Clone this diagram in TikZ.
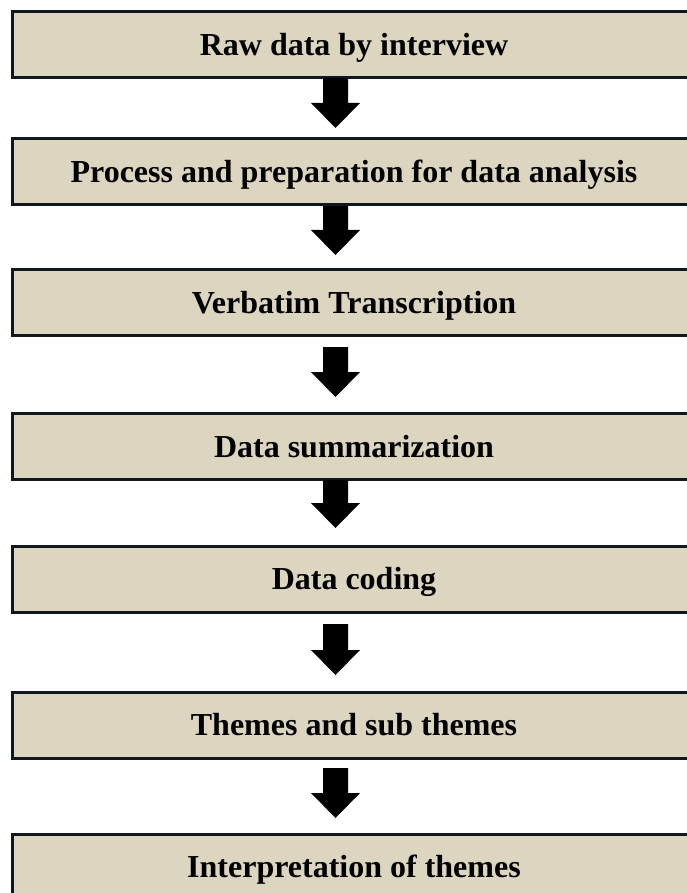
\documentclass[tikz,border=0pt]{standalone}
\usepackage{fontspec}
\setmainfont{Liberation Serif}
\definecolor{boxfill}{RGB}{220,214,192}
\definecolor{boxline}{RGB}{16,24,31}
\begin{document}
\begin{tikzpicture}[x=1pt,y=-1pt,
  stepbox/.style={draw=boxline, line width=3pt, fill=boxfill, minimum width=683pt,
    minimum height=66pt, inner sep=0pt, text height=21.6pt, text depth=0pt,
    font=\fontsize{32}{38}\selectfont\bfseries},
  blockarrow/.style={fill=black}]
\useasboundingbox (0,0) rectangle (687,893);
\clip (0,0) rectangle (687,893);
\node[stepbox] (b1) at (354,45) {Raw data by interview};
\node[stepbox] (b2) at (354,171.5) {Process and preparation for data analysis};
\node[stepbox] (b3) at (354,302.5) {Verbatim Transcription};
\node[stepbox] (b4) at (354,446.5) {Data summarization};
\node[stepbox] (b5) at (354,579) {Data coding};
\node[stepbox] (b6) at (354,725) {Themes and sub themes};
\node[stepbox] (b7) at (354,867) {Interpretation of themes};
\foreach \ya/\yb in {78/128, 206/255, 347/397, 480/528, 624/675, 768/818}{
  \fill[blockarrow] (323,\ya) -- (348,\ya) -- (348,{\yb-25}) -- (360,{\yb-25}) -- (335.5,\yb)
    -- (311,{\yb-25}) -- (323,{\yb-25}) -- cycle;
}
\end{tikzpicture}
\end{document}
